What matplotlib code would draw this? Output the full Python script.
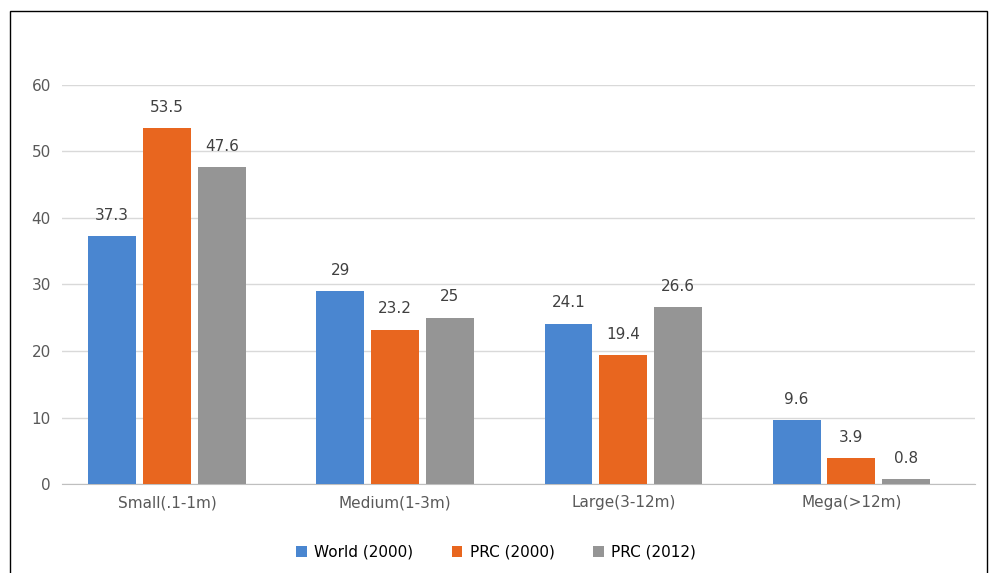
import matplotlib
matplotlib.use("Agg")
import matplotlib.pyplot as plt
import numpy as np
from matplotlib.patches import Rectangle

categories = ["Small(.1-1m)", "Medium(1-3m)", "Large(3-12m)", "Mega(>12m)"]
series = ["World (2000)", "PRC (2000)", "PRC (2012)"]
world2000 = [37.3, 29, 24.1, 9.6]
prc2000 = [53.5, 23.2, 19.4, 3.9]
prc2012 = [47.6, 25, 26.6, 0.8]
colors = ["#4a86d0", "#e8661f", "#959595"]

fig = plt.figure(figsize=(9.92, 5.73), dpi=100)
ax = fig.add_axes([0.0625, 0.155, 0.92, 0.697])
x = np.arange(len(categories))
w = 0.21
off = 0.24
for i, (vals, lab, c) in enumerate(zip([world2000, prc2000, prc2012], series, colors)):
    bars = ax.bar(x + (i - 1) * off, vals, w, color=c, label=lab, zorder=3)
    for b, v in zip(bars, vals):
        ax.text(b.get_x() + b.get_width() / 2, v + 2, f"{v:g}", ha="center", va="bottom",
                fontsize=11, color="#404040")
ax.set_ylim(0, 60)
ax.set_xlim(-0.46, 3.54)
ax.set_yticks(range(0, 61, 10))
ax.set_xticks(x)
ax.set_xticklabels(categories)
ax.tick_params(axis="both", length=0, labelsize=11, colors="#595959", pad=8)
ax.grid(axis="y", color="#d9d9d9", lw=1, zorder=0)
for s in ["top", "right", "left"]:
    ax.spines[s].set_visible(False)
ax.spines["bottom"].set_color("#bfbfbf")
fig.legend(*ax.get_legend_handles_labels(), loc="center", bbox_to_anchor=(0.5, 0.036), ncol=3,
           frameon=False, fontsize=11, handlelength=0.7, handleheight=0.7, columnspacing=2.5,
           handletextpad=0.5)
fig.patches.append(Rectangle((0.01, -0.01), 0.985, 0.99, transform=fig.transFigure,
                             fill=False, ec="black", lw=1))
fig.savefig("out.png", dpi=100)
